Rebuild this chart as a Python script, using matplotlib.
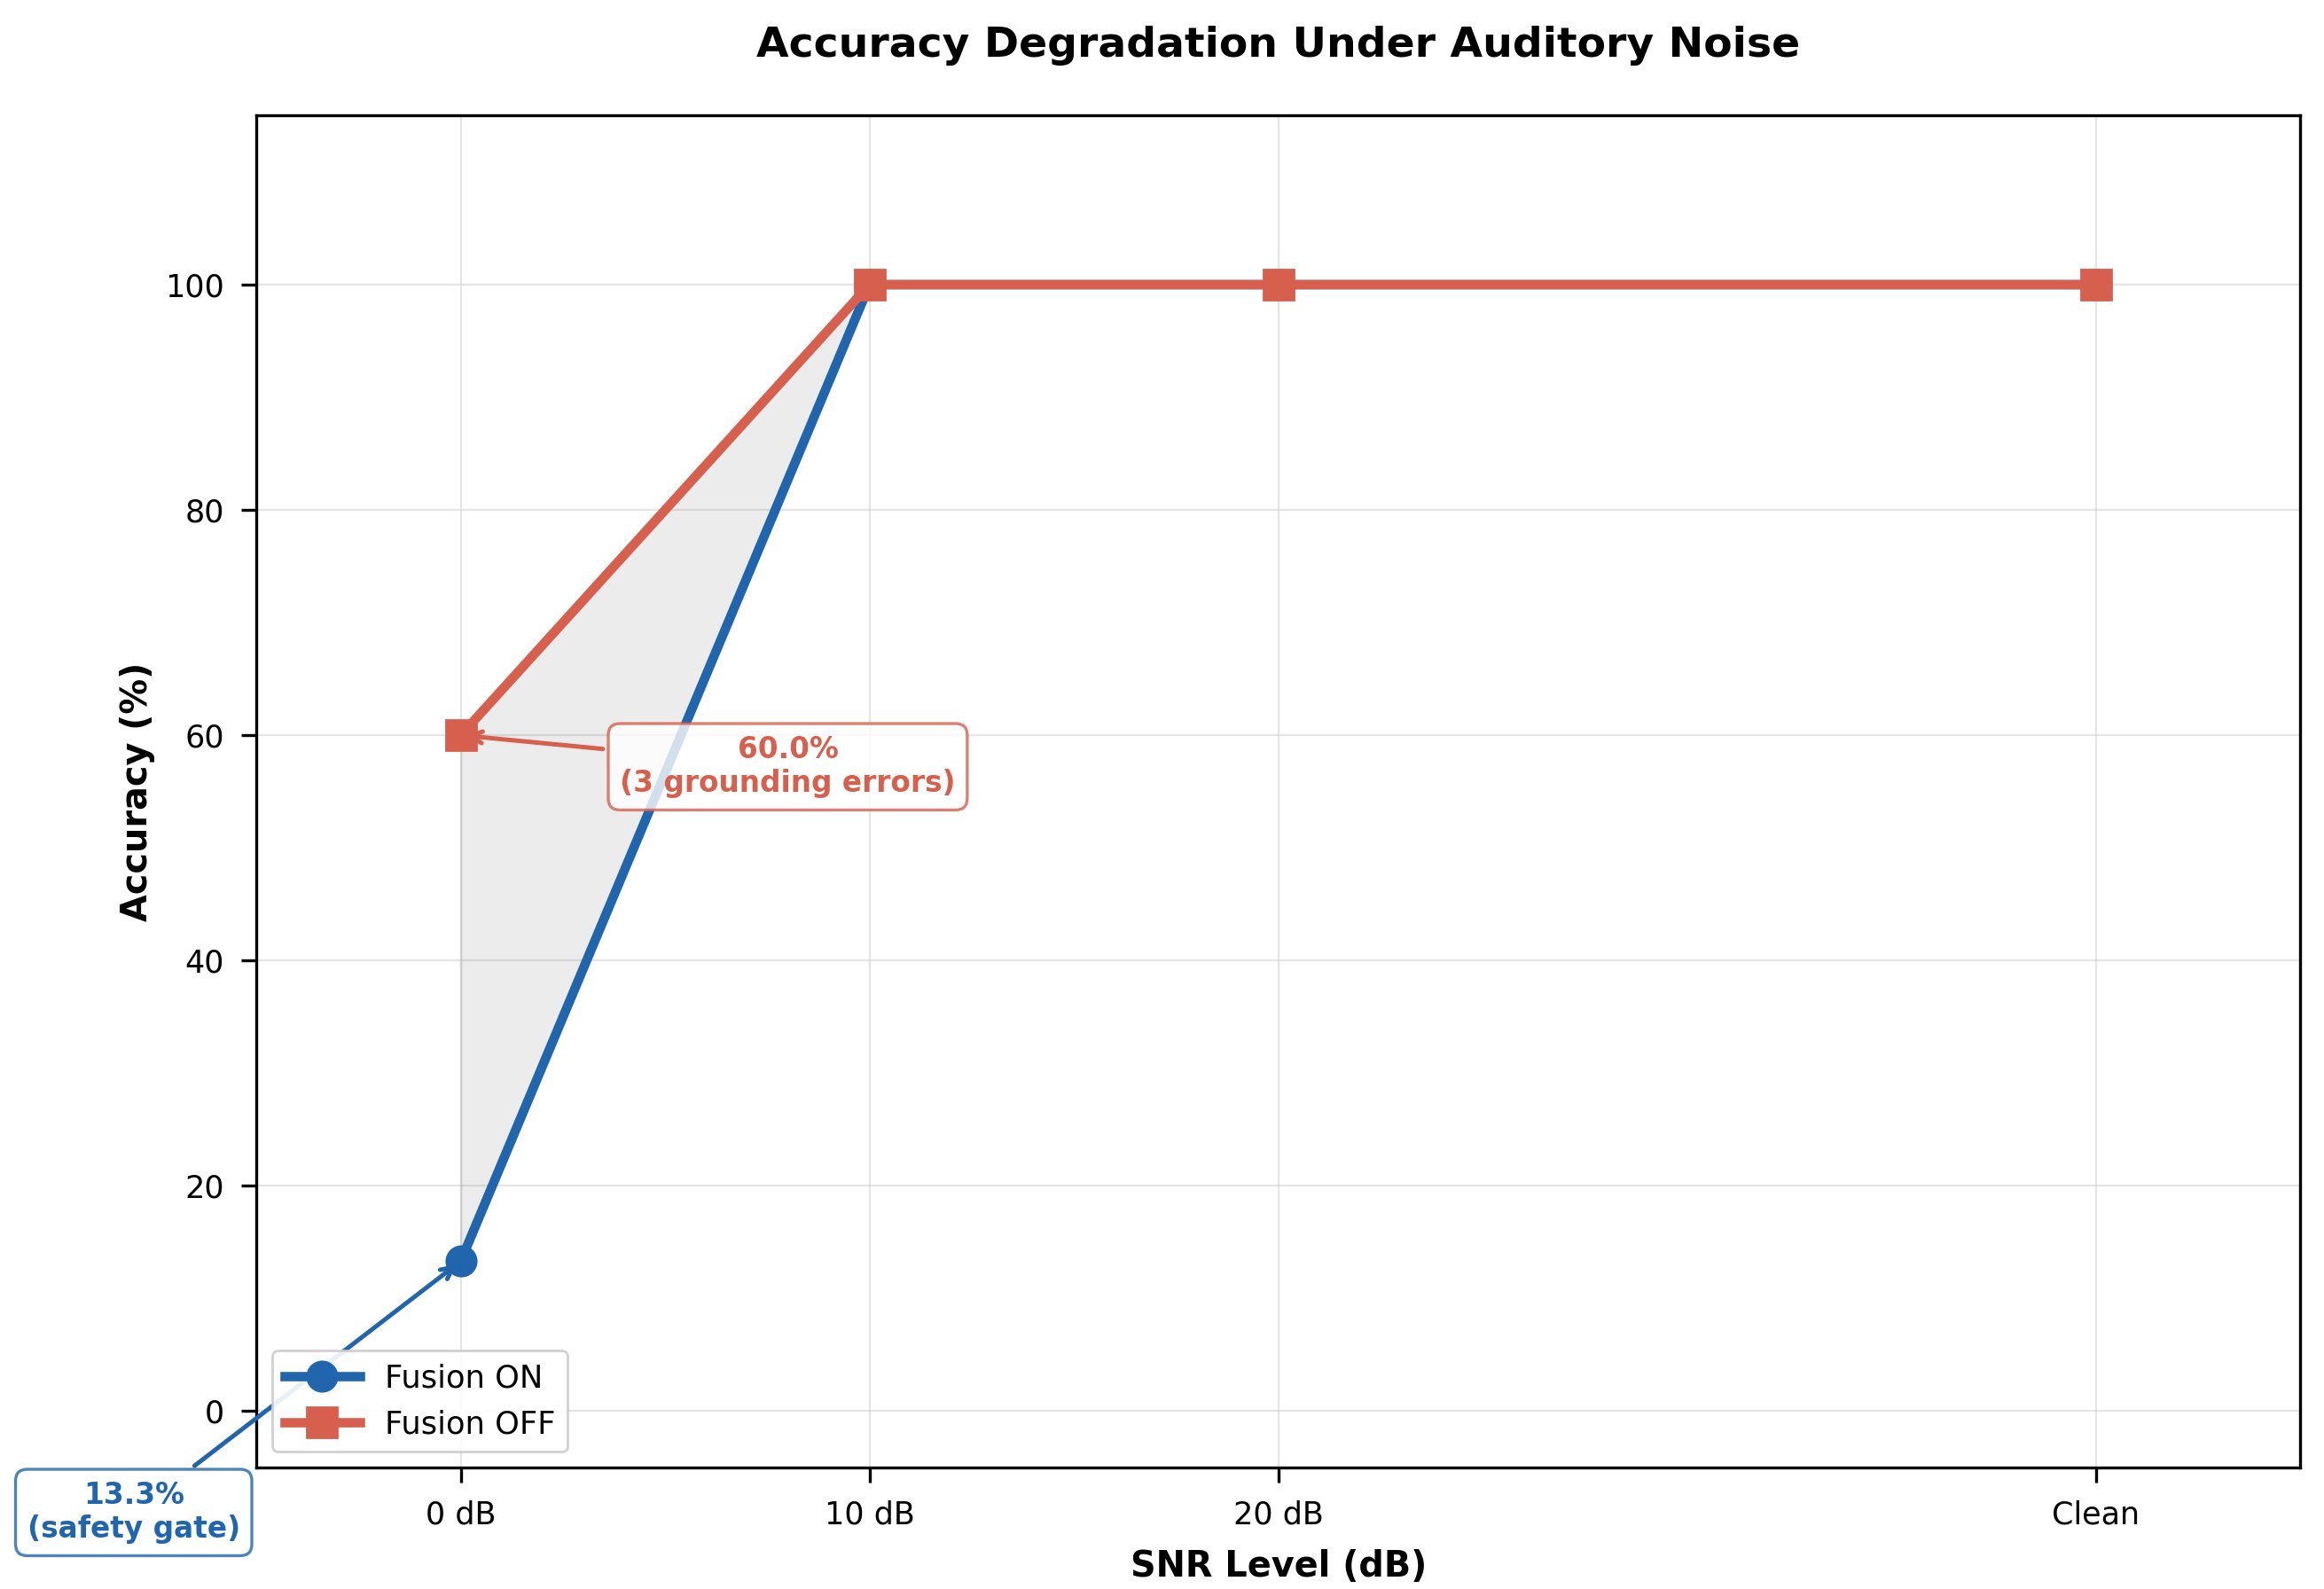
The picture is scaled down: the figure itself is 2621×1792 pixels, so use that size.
import numpy as np
import matplotlib
matplotlib.use("Agg")
import matplotlib.pyplot as plt

# data
snr_labels = ['0 dB', '10 dB', '20 dB', 'Clean']
snr_pos = [0, 10, 20, 40]
acc_fusion_on = [13.3, 100.0, 100.0, 100.0]
acc_fusion_off = [60.0, 100.0, 100.0, 100.0]

blue = '#2166ac'
red = '#d6604d'

fig = plt.figure(figsize=(2621 / 200, 1792 / 200), dpi=200)
ax = fig.add_axes([0.1103, 0.0765, 0.8795, 0.8507])

ax.fill_between(snr_pos, acc_fusion_on, acc_fusion_off, color='gray', alpha=0.15, zorder=1)
ax.plot(snr_pos, acc_fusion_on, '-o', color=blue, lw=3.8, ms=12, label='Fusion ON', zorder=3)
ax.plot(snr_pos, acc_fusion_off, '-s', color=red, lw=3.8, ms=12, label='Fusion OFF', zorder=3)

ax.annotate(f'{acc_fusion_on[0]:.1f}%\n(safety gate)',
            xy=(snr_pos[0], acc_fusion_on[0]), xytext=(-8, -9),
            ha='center', va='center', fontsize=11.8, fontweight='bold', color=blue,
            bbox=dict(boxstyle='round,pad=0.4', fc='white', ec=blue, alpha=0.8, lw=1.2),
            arrowprops=dict(arrowstyle='->', color=blue, lw=1.8),
            annotation_clip=False, zorder=4)
ax.annotate(f'{acc_fusion_off[0]:.1f}%\n(3 grounding errors)',
            xy=(snr_pos[0], acc_fusion_off[0]), xytext=(8, 57.2),
            ha='center', va='center', fontsize=11.8, fontweight='bold', color=red,
            bbox=dict(boxstyle='round,pad=0.4', fc='white', ec=red, alpha=0.8, lw=1.2),
            arrowprops=dict(arrowstyle='->', color=red, lw=1.8),
            zorder=4)

ax.set_xlim(-5, 45)
ax.set_ylim(-5, 115)
ax.set_xticks(snr_pos)
ax.set_xticklabels(snr_labels)
ax.tick_params(length=6, width=1.2, pad=7, labelsize=12.6)
for s in ax.spines.values():
    s.set_linewidth(1.2)
ax.grid(True, color='#cccccc', alpha=0.5, lw=0.8)
ax.set_axisbelow(True)

ax.set_xlabel('SNR Level (dB)', fontsize=14.3, fontweight='bold', labelpad=8)
ax.set_ylabel('Accuracy (%)', fontsize=14.3, fontweight='bold', labelpad=4)
ax.set_title('Accuracy Degradation Under Auditory Noise', fontsize=17, fontweight='bold', pad=24)

ax.legend(loc='lower left', fontsize=12.7, framealpha=0.9, handlelength=2.4)

fig.savefig('out.png', dpi=200)
